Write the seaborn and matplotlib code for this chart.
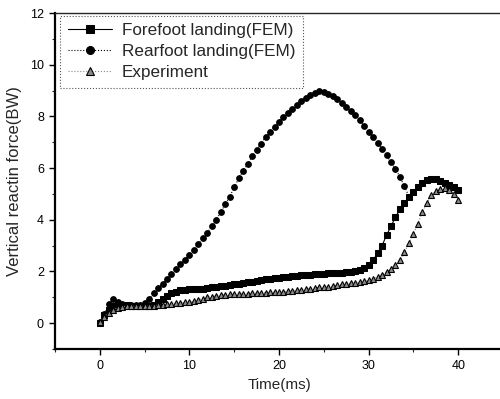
import matplotlib
matplotlib.use("Agg")
import matplotlib.pyplot as plt
import seaborn as sns
import pandas as pd
from matplotlib.ticker import MultipleLocator

# ---- data ----
time_ff = [0.0, 0.5, 1.0, 1.5, 2.0, 2.5, 3.0, 3.5, 4.0, 4.5, 5.0, 5.5, 6.0, 6.5, 7.0, 7.5,
           8.0, 8.5, 9.0, 9.5, 10.0, 10.5, 11.0, 11.5, 12.0, 12.5, 13.0, 13.5, 14.0, 14.5,
           15.0, 15.5, 16.0, 16.5, 17.0, 17.5, 18.0, 18.5, 19.0, 19.5, 20.0, 20.5, 21.0,
           21.5, 22.0, 22.5, 23.0, 23.5, 24.0, 24.5, 25.0, 25.5, 26.0, 26.5, 27.0, 27.5,
           28.0, 28.5, 29.0, 29.5, 30.0, 30.5, 31.0, 31.5, 32.0, 32.5, 33.0, 33.5, 34.0,
           34.5, 35.0, 35.5, 36.0, 36.5, 37.0, 37.5, 38.0, 38.5, 39.0, 39.5, 40.0]
forefoot = [0.0, 0.3, 0.52, 0.65, 0.7, 0.7, 0.7, 0.68, 0.68, 0.68, 0.68, 0.68, 0.72, 0.82,
            0.92, 1.05, 1.15, 1.22, 1.27, 1.3, 1.32, 1.33, 1.33, 1.34, 1.36, 1.38, 1.4, 1.42,
            1.44, 1.47, 1.5, 1.52, 1.55, 1.58, 1.61, 1.64, 1.67, 1.7, 1.72, 1.74, 1.76, 1.78,
            1.8, 1.81, 1.83, 1.85, 1.86, 1.88, 1.9, 1.91, 1.92, 1.93, 1.94, 1.95, 1.96, 1.97,
            1.98, 2.0, 2.05, 2.12, 2.25, 2.44, 2.7, 3.0, 3.4, 3.75, 4.1, 4.4, 4.65, 4.88,
            5.08, 5.28, 5.43, 5.53, 5.57, 5.56, 5.5, 5.42, 5.34, 5.25, 5.17]

time_rf = time_ff[:70]
rearfoot = [0.05, 0.35, 0.75, 0.92, 0.83, 0.75, 0.72, 0.7, 0.7, 0.72, 0.78, 0.92, 1.15,
            1.35, 1.52, 1.72, 1.9, 2.1, 2.28, 2.45, 2.65, 2.85, 3.05, 3.3, 3.5, 3.75, 4.0,
            4.3, 4.6, 4.9, 5.25, 5.6, 5.9, 6.15, 6.45, 6.7, 6.95, 7.2, 7.4, 7.6, 7.8, 7.98,
            8.15, 8.3, 8.45, 8.6, 8.72, 8.83, 8.92, 8.97, 8.95, 8.88, 8.78, 8.66, 8.52, 8.38,
            8.22, 8.05, 7.85, 7.62, 7.4, 7.2, 6.98, 6.75, 6.5, 6.22, 5.98, 5.65, 5.3, 4.9]

time_ex = time_ff
experiment = [0.05, 0.25, 0.4, 0.52, 0.6, 0.64, 0.65, 0.65, 0.65, 0.65, 0.65, 0.66, 0.68,
              0.7, 0.72, 0.74, 0.75, 0.77, 0.79, 0.8, 0.82, 0.85, 0.9, 0.95, 1.0, 1.03, 1.06,
              1.08, 1.1, 1.11, 1.12, 1.13, 1.14, 1.14, 1.15, 1.16, 1.17, 1.18, 1.19, 1.2,
              1.21, 1.22, 1.24, 1.26, 1.28, 1.3, 1.32, 1.34, 1.36, 1.38, 1.39, 1.41, 1.44,
              1.47, 1.5, 1.52, 1.54, 1.56, 1.58, 1.62, 1.66, 1.72, 1.8, 1.88, 1.98, 2.1, 2.25,
              2.45, 2.75, 3.1, 3.45, 3.85, 4.3, 4.65, 4.95, 5.1, 5.18, 5.22, 5.15, 5.0, 4.77]

labels = ["Forefoot landing(FEM)", "Rearfoot landing(FEM)", "Experiment"]

sns.set_style("ticks")
plt.rcParams["font.family"] = ["Liberation Sans", "DejaVu Sans"]

fig = plt.figure(figsize=(5.0, 3.99), dpi=100)
ax = fig.add_axes([0.11, 0.1253, 0.896, 0.842])

df_ff = pd.DataFrame({"t": time_ff, "v": forefoot})
df_rf = pd.DataFrame({"t": time_rf, "v": rearfoot})
df_ex = pd.DataFrame({"t": time_ex, "v": experiment})

sns.lineplot(data=df_ff, x="t", y="v", ax=ax, color="black", lw=0.8, linestyle="-",
             marker="s", markersize=4.0, markeredgecolor="black", markerfacecolor="black",
             label=labels[0])
sns.lineplot(data=df_rf, x="t", y="v", ax=ax, color="black", lw=0.8, linestyle=":",
             marker="o", markersize=4.1, markeredgecolor="black", markerfacecolor="black",
             label=labels[1])
sns.lineplot(data=df_ex, x="t", y="v", ax=ax, color="#888888", lw=0.8, linestyle=":",
             marker="^", markersize=4.3, markeredgecolor="black", markerfacecolor="#8a8a8a",
             markeredgewidth=0.8, label=labels[2])

ax.set_xlim(-5, 45)
ax.set_ylim(-1, 12)
ax.xaxis.set_major_locator(MultipleLocator(10))
ax.xaxis.set_minor_locator(MultipleLocator(5))
ax.yaxis.set_major_locator(MultipleLocator(2))
ax.yaxis.set_minor_locator(MultipleLocator(1))
ax.tick_params(axis="both", which="major", direction="out", length=4, width=1.0,
               labelsize=9, colors="black", pad=4)
ax.tick_params(axis="both", which="minor", direction="out", length=2.5, width=0.8)

for s in ["left", "bottom"]:
    ax.spines[s].set_linewidth(1.6)
    ax.spines[s].set_color("black")
ax.spines["top"].set_visible(True)
ax.spines["top"].set_linewidth(1.0)
ax.spines["right"].set_visible(False)

ax.set_xlabel("Time(ms)", fontsize=11, labelpad=4)
ax.set_ylabel("Vertical reactin force(BW)", fontsize=12, labelpad=6)

leg = ax.legend(loc="upper left", bbox_to_anchor=(0.012, 0.992), borderaxespad=0.0,
                fontsize=12.3, frameon=True, fancybox=False, edgecolor="#555555",
                framealpha=1, handlelength=2.6, handletextpad=0.55, borderpad=0.45,
                labelspacing=0.35, markerscale=1.4)
leg.get_frame().set_linewidth(0.8)
leg.get_frame().set_linestyle(":")

fig.savefig("out.png", dpi=100)
